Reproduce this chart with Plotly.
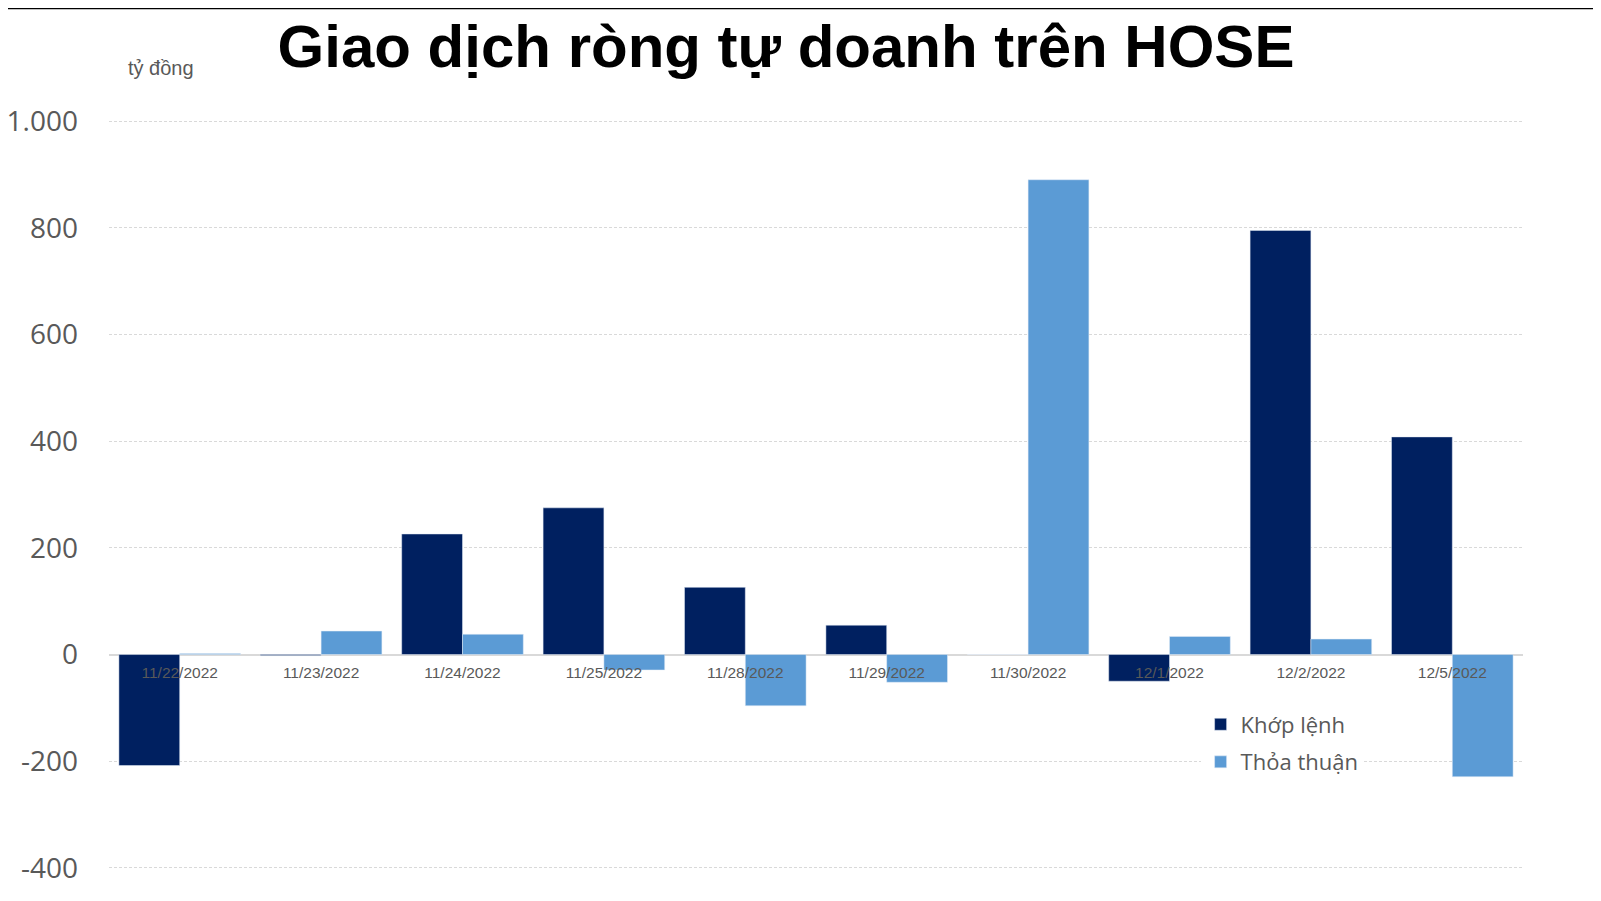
import plotly.graph_objects as go

# data (tỷ đồng)
dates = ["11/22/2022", "11/23/2022", "11/24/2022", "11/25/2022", "11/28/2022",
         "11/29/2022", "11/30/2022", "12/1/2022", "12/2/2022", "12/5/2022"]
khop_lenh = [-208, -2, 226, 275, 126, 55, 0, -50, 795, 408]
thoa_thuan = [2, 44, 38, -29, -96, -52, 890, 34, 29, -229]

y_ticks = [-400, -200, 0, 200, 400, 600, 800, 1000]
y_tick_text = ["-400", "-200", "0", "200", "400", "600", "800", "1.000"]

dark_blue = "#002060"
light_blue = "#5B9BD5"
grey_text = "#595959"

fig = go.Figure()
fig.add_trace(go.Bar(x=dates, y=khop_lenh, name="Khớp lệnh",
                     marker_color=dark_blue, legendgroup="a"))
fig.add_trace(go.Bar(x=dates, y=thoa_thuan, name="Thỏa thuận",
                     marker_color=light_blue, legendgroup="b"))

fig.update_layout(
    width=1585,
    height=885,
    margin=dict(l=101, r=70, t=112, b=24),
    plot_bgcolor="white",
    paper_bgcolor="white",
    barmode="group",
    bargap=0.14,
    bargroupgap=0,
    title=dict(
        text="<b>Giao dịch ròng tự doanh trên HOSE</b>",
        x=778 / 1585, xanchor="center",
        y=1 - 38 / 885, yanchor="middle",
        font=dict(family="Liberation Sans, Arial", size=60, color="black"),
    ),
    showlegend=True,
    legend=dict(
        x=0.772, xanchor="left",
        y=0.221, yanchor="top",
        bgcolor="white",
        font=dict(family="Open Sans", size=22, color=grey_text),
        tracegroupgap=6,
    ),
    annotations=[dict(
        text="tỷ đồng", xref="paper", yref="paper",
        x=0.0368, y=1.0689, xanchor="center", yanchor="middle",
        showarrow=False,
        font=dict(family="Liberation Sans, Arial", size=20, color=grey_text),
    )],
    shapes=[dict(
        type="line", xref="paper", yref="paper",
        x0=-0.075, x1=1.055, y0=1.1499, y1=1.1499,
        line=dict(color="black", width=3),
    )],
)

fig.update_xaxes(
    automargin=False,
    anchor="free",
    position=402 / 1404,
    showline=False,
    showgrid=False,
    ticks="",
    tickfont=dict(family="Liberation Sans, Arial", size=15.5, color=grey_text),
    ticklabelstandoff=7,
)
fig.update_yaxes(
    automargin=False,
    range=[-402, 1002],
    tickvals=y_ticks,
    ticktext=y_tick_text,
    showgrid=True,
    gridcolor="#d9d9d9",
    griddash="3px,2px",
    gridwidth=1,
    zeroline=True,
    zerolinecolor="#d9d9d9",
    zerolinewidth=1.5,
    showline=False,
    tickfont=dict(family="Open Sans", size=28, color=grey_text),
    ticklabelstandoff=30,
)

fig.write_html("out.html")
